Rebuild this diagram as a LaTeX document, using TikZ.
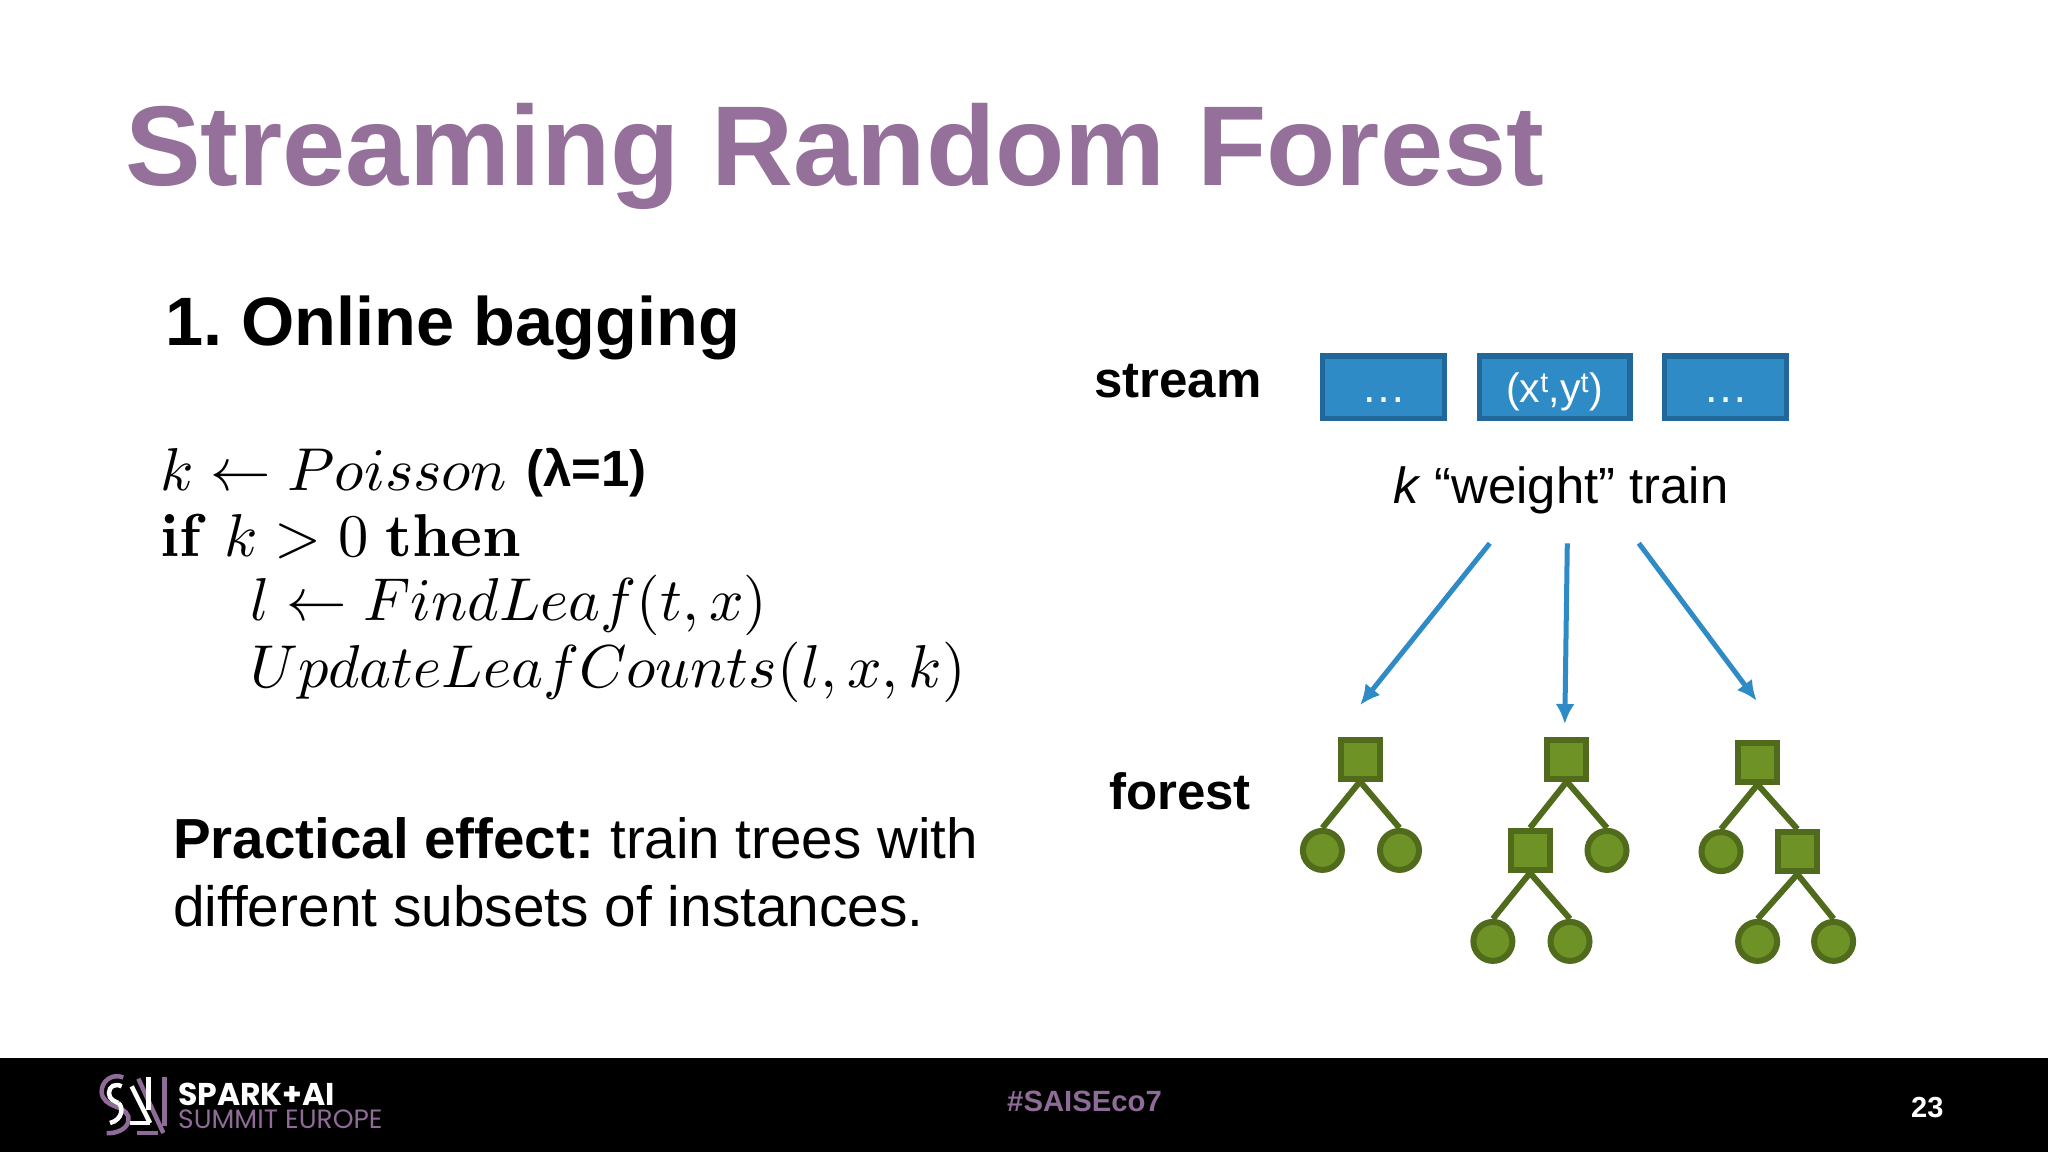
\documentclass[tikz,border=0pt]{standalone}
\usepackage[no-math]{fontspec}
\setmainfont{Liberation Sans}
\newfontfamily\pop{Poppins}
\usetikzlibrary{arrows.meta}
\definecolor{titlepurple}{HTML}{94709B}
\definecolor{boxfill}{HTML}{2E8BC5}
\definecolor{boxedge}{HTML}{21679A}
\definecolor{treefill}{HTML}{6F9226}
\definecolor{treeedge}{HTML}{4F6B1B}
\definecolor{footpurple}{HTML}{8F6B97}
\newcommand{\sz}[1]{\fontsize{#1}{#1}\selectfont}
\newcommand{\low}[1]{\smash{\raisebox{-15pt}{#1}}}
\tikzset{
  txt/.style={inner sep=0pt,anchor=base west,text=black},
  code/.style={inner sep=0pt,anchor=base west,text=black,scale=6.05},
  streambox/.style={draw=boxedge,fill=boxfill,line width=5.5pt,minimum height=62.5pt,inner sep=0pt,text=white},
  inner/.style={draw=treeedge,fill=treefill,line width=6pt,minimum width=39pt,minimum height=39pt,inner sep=0pt},
  leaf/.style={circle,draw=treeedge,fill=treefill,line width=6pt,minimum size=39pt,inner sep=0pt},
  link/.style={draw=treeedge,line width=6pt},
  flow/.style={draw=boxfill,line width=5pt,-{Latex[length=20pt,width=19pt]}},
  logo/.style={line width=4.5pt}
}
\begin{document}
\begin{tikzpicture}[x=1pt,y=-1pt]
\useasboundingbox (0,0) rectangle (2048,1152);
\fill[white] (0,0) rectangle (2048,1152);
\fill[black] (0,1058) rectangle (2048,1152);
% title
\node[txt,text=titlepurple] (title) at (125,185) {\sz{113.5}\bfseries Streaming Random Forest};
\node[txt] (online) at (165,345) {\sz{68.5}\bfseries 1.\hspace{-6pt} Online bagging};
% pseudocode
\node[code] (l1) at (159,490) {$k\leftarrow Poisson$};
\node[txt] (lam) at (526,486) {\sz{51}\bfseries (λ=1)};
\node[code] (l2) at (159,556) {$\mathbf{if}\ k>0\ \mathbf{then}$};
\node[code] (l3) at (249,620) {$l\leftarrow FindLeaf(t,x)$};
\node[code] (l4) at (249,687) {$UpdateLeafCounts(l,x,k)$};
% effect
\node[txt] (p1) at (173,858) {\sz{56.5}\textbf{Practical effect:}\hspace{-4.5pt} train trees with};
\node[txt] (p2) at (173,926) {\sz{56.8}different subsets of instances.};
% stream
\node[txt] (stream) at (1094,397) {\sz{51}\bfseries stream};
\node[txt] (forest) at (1109,809) {\sz{51}\bfseries forest};
\node[streambox,minimum width=122pt] (b1) at (1383.7,387) {\sz{45}\low{…}};
\node[streambox,minimum width=150.5pt] (b2) at (1554.5,387) {\sz{41}\low{(x\textsuperscript{t},y\textsuperscript{t})}};
\node[streambox,minimum width=122pt] (b3) at (1725.5,387) {\sz{45}\low{…}};
\node[txt] (weight) at (1393,503) {\sz{50.8}\textit{k} “weight” train};
% forest
\node[inner] (r1) at (1360,759) {};
\node[leaf] (a1) at (1322.4,850.4) {};
\node[leaf] (a2) at (1399.5,850.4) {};
\node[inner] (r2) at (1566.8,759) {};
\node[inner] (s2) at (1530,850.4) {};
\node[leaf] (b2r) at (1607,850.4) {};
\node[leaf] (c1) at (1492.9,941.4) {};
\node[leaf] (c2) at (1570,941.4) {};
\node[inner] (r3) at (1757.6,762) {};
\node[leaf] (d1) at (1721,851.6) {};
\node[inner] (s3) at (1797.4,851.6) {};
\node[leaf] (e1) at (1757.6,941.4) {};
\node[leaf] (e2) at (1833.6,941.4) {};
\foreach \p/\c in {r1/a1,r1/a2,r2/s2,r2/b2r,s2/c1,s2/c2,r3/d1,r3/s3,s3/e1,s3/e2}
  \draw[link] (\p.south) -- (\c.north);
% flow arrows
\coordinate (f1s) at (1489.8,543.3); \coordinate (f1e) at (1360.2,705);
\coordinate (f2s) at (1567.3,543.3); \coordinate (f2e) at (1564.8,724);
\coordinate (f3s) at (1638.8,543.3); \coordinate (f3e) at (1756.6,700.7);
\draw[flow] (f1s) -- (f1e);
\draw[flow] (f2s) -- (f2e);
\draw[flow] (f3s) -- (f3e);
% footer logo
\begin{scope}[logo,xshift=95pt,yshift=-1068pt,x=0.3333pt,y=-0.3333pt]
\draw[footpurple] (85,28) .. controls (50,15) and (20,40) .. (20,70) .. controls (20,95) and (40,107) .. (60,115) .. controls (90,125) and (105,140) .. (100,160) .. controls (95,185) and (60,198) .. (35,195);
\draw[white] (80,55) .. controls (60,45) and (42,55) .. (42,75) .. controls (42,95) and (60,100) .. (70,105);
\draw[white] (70,105) .. controls (85,115) and (85,155) .. (45,165);
\draw[white] (110,55) -- (165,165);
\draw[white] (105,165) -- (165,165);
\draw[footpurple] (130,32) -- (205,195);
\draw[footpurple] (125,195) -- (190,195);
\draw[white] (160,28) -- (160,125);
\draw[footpurple] (208,28) -- (208,175);
\end{scope}
\node[txt,text=white] (spark) at (178,1105) {\sz{31.5}\pop\bfseries SPARK+AI};
\node[txt,text=footpurple] (summit) at (178,1128) {\sz{26.5}\pop SUMMIT EUROPE};
\node[txt,text=footpurple] (tag) at (1007,1111) {\sz{29.3}\bfseries \#SAISEco7};
\node[txt,text=white] (pg) at (1911,1117) {\sz{29}\bfseries 23};
\end{tikzpicture}
\end{document}
